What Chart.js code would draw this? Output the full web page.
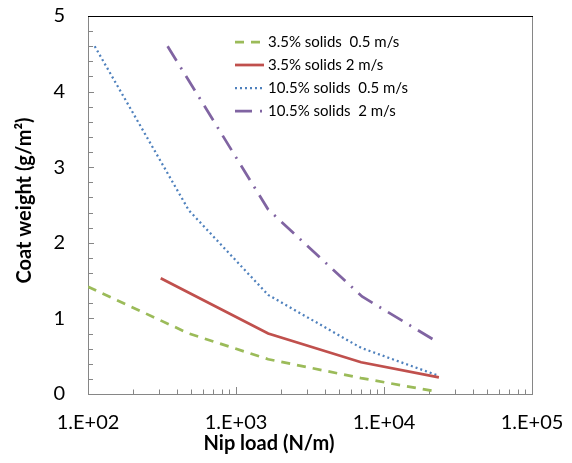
<!DOCTYPE html>
<html>
<head>
<meta charset="utf-8">
<title>Coat weight vs nip load</title>
<script src="https://cdn.jsdelivr.net/npm/chart.js@4.4.0/dist/chart.umd.min.js"></script>
<style>
  html, body { margin: 0; padding: 0; background: #fff; }
  canvas { display: block; }
</style>
</head>
<body>
<canvas id="coatChart" width="572" height="463"></canvas>
<script>
// Nip load (N/m) against coat weight (g/m2), one pair of arrays per run
const seriesLabels = ['3.5% solids  0.5 m/s', '3.5% solids 2 m/s', '10.5% solids  0.5 m/s', '10.5% solids  2 m/s'];

const lowSlowLoad = [100, 480, 1650, 7000, 21500];
const lowSlowWeight = [1.42, 0.80, 0.46, 0.21, 0.04];

const lowFastLoad = [310, 1650, 7000, 23500];
const lowFastWeight = [1.53, 0.80, 0.42, 0.22];

const highSlowLoad = [111, 480, 1650, 7000, 23500];
const highSlowWeight = [4.60, 2.43, 1.31, 0.61, 0.24];

const highFastLoad = [345, 1650, 7100, 22000];
const highFastWeight = [4.60, 2.44, 1.29, 0.71];

// Axis range and tick settings
const yMin = 0, yMax = 5, yStep = 0.2;
const xMin = 100, xMax = 100000;

const FONT = 'Lato, "Open Sans", sans-serif';
const AXIS_GREY = '#868686';

function toPoints(xs, ys) {
    return xs.map((x, i) => ({ x: x, y: ys[i] }));
}

// 1.E+02 style labels, only on whole decades
function decadeLabel(value) {
    const exp = Math.log10(value);
    if (Math.abs(exp - Math.round(exp)) > 1e-9) return '';
    const e = Math.round(exp);
    return '1.E+' + (e < 10 ? '0' + e : e);
}

// the layout padding alone decides where the plot area sits
function dropScalePadding(scale) {
    scale.paddingTop = 0;
    scale.paddingBottom = 0;
    scale.paddingLeft = 0;
    scale.paddingRight = 0;
}

// Short tick marks pointing into the plot, plus top and right frame lines
const frameTicks = {
    id: 'frameTicks',
    beforeDatasetsDraw(chart) {
        const ctx = chart.ctx;
        const area = chart.chartArea;
        const xs = chart.scales.x, ys = chart.scales.y;
        ctx.save();
        ctx.lineWidth = 1;
        ctx.strokeStyle = AXIS_GREY;
        ctx.beginPath();
        ys.ticks.forEach(t => {
            const py = Math.round(ys.getPixelForValue(t.value)) + 0.5;
            const len = Math.abs(t.value - Math.round(t.value)) < 1e-6 ? 6 : 5;
            ctx.moveTo(area.left, py);
            ctx.lineTo(area.left + len, py);
        });
        xs.ticks.forEach(t => {
            const px = Math.round(xs.getPixelForValue(t.value)) + 0.5;
            const len = decadeLabel(t.value) ? 7 : 4.5;
            ctx.moveTo(px, area.bottom);
            ctx.lineTo(px, area.bottom - len);
        });
        ctx.stroke();

        // right edge
        ctx.beginPath();
        ctx.moveTo(Math.round(area.right) + 0.5, area.top);
        ctx.lineTo(Math.round(area.right) + 0.5, area.bottom);
        ctx.stroke();

        // top edge
        ctx.strokeStyle = '#000';
        ctx.beginPath();
        ctx.moveTo(area.left, Math.round(area.top) + 0.5);
        ctx.lineTo(area.right + 1, Math.round(area.top) + 0.5);
        ctx.stroke();
        ctx.restore();
    }
};

// Legend inside the plot and the two axis titles
const legendAndTitles = {
    id: 'legendAndTitles',
    afterDraw(chart) {
        const ctx = chart.ctx;
        ctx.save();
        chart.data.datasets.forEach((ds, i) => {
            const y = 42 + i * 23;
            ctx.strokeStyle = ds.borderColor;
            ctx.lineWidth = ds.borderWidth;
            ctx.setLineDash(ds.borderDash || []);
            ctx.beginPath();
            ctx.moveTo(235, y);
            ctx.lineTo(264, y);
            ctx.stroke();
            ctx.setLineDash([]);
            ctx.fillStyle = '#000';
            ctx.font = '15px ' + FONT;
            ctx.textAlign = 'left';
            ctx.textBaseline = 'middle';
            ctx.fillText(ds.label, 268, y);
        });

        ctx.fillStyle = '#000';
        ctx.font = 'bold 20px ' + FONT;
        ctx.textAlign = 'center';
        ctx.textBaseline = 'alphabetic';
        ctx.fillText('Nip load (N/m)', 269, 449.5);

        ctx.translate(31, 200.5);
        ctx.rotate(-Math.PI / 2);
        ctx.fillText('Coat weight (g/m\u00B2)', 0, 0);
        ctx.restore();
    }
};

const ctx = document.getElementById('coatChart').getContext('2d');

new Chart(ctx, {
    type: 'line',
    data: {
        datasets: [
            {
                label: seriesLabels[0],
                data: toPoints(lowSlowLoad, lowSlowWeight),
                borderColor: '#9BBB59',
                borderWidth: 2.75,
                borderDash: [9, 7],
                borderCapStyle: 'butt'
            },
            {
                label: seriesLabels[1],
                data: toPoints(lowFastLoad, lowFastWeight),
                borderColor: '#C0504D',
                borderWidth: 2.75
            },
            {
                label: seriesLabels[2],
                data: toPoints(highSlowLoad, highSlowWeight),
                borderColor: '#4F81BD',
                borderWidth: 2.25,
                borderDash: [2, 3],
                borderCapStyle: 'butt'
            },
            {
                label: seriesLabels[3],
                data: toPoints(highFastLoad, highFastWeight),
                borderColor: '#8064A2',
                borderWidth: 2.75,
                borderDash: [17, 8, 2, 8],
                borderCapStyle: 'butt'
            }
        ]
    },
    options: {
        responsive: false,
        animation: false,
        devicePixelRatio: 1,
        layout: { padding: { left: 0, top: 16, right: 40, bottom: 0 } },
        elements: {
            point: { radius: 0, hoverRadius: 0 },
            line: { tension: 0, fill: false }
        },
        plugins: {
            legend: { display: false },
            tooltip: { enabled: false }
        },
        scales: {
            x: {
                type: 'logarithmic',
                min: xMin,
                max: xMax,
                afterBuildTicks: function(scale) {
                    const ticks = [];
                    for (let e = 2; e < 5; e++) {
                        for (let m = 1; m < 10; m++) ticks.push({ value: m * Math.pow(10, e) });
                    }
                    ticks.push({ value: xMax });
                    scale.ticks = ticks;
                },
                afterFit: function(scale) {
                    scale.height = 69;
                    dropScalePadding(scale);
                },
                grid: { display: true, drawOnChartArea: false, drawTicks: false },
                border: { color: AXIS_GREY, width: 1 },
                ticks: {
                    autoSkip: false,
                    maxRotation: 0,
                    padding: 17,
                    color: '#000',
                    font: { family: FONT, size: 20 },
                    callback: function(value) { return decadeLabel(value); }
                }
            },
            y: {
                min: yMin,
                max: yMax,
                afterFit: function(scale) {
                    scale.width = 88;
                    dropScalePadding(scale);
                },
                grid: { display: true, drawOnChartArea: false, drawTicks: false },
                border: { color: AXIS_GREY, width: 1 },
                ticks: {
                    stepSize: yStep,
                    autoSkip: false,
                    padding: 23,
                    color: '#000',
                    font: { family: FONT, size: 20 },
                    callback: function(value) {
                        return Math.abs(value - Math.round(value)) < 1e-6 ? String(Math.round(value)) : '';
                    }
                }
            }
        }
    },
    plugins: [frameTicks, legendAndTitles]
});
</script>
</body>
</html>
